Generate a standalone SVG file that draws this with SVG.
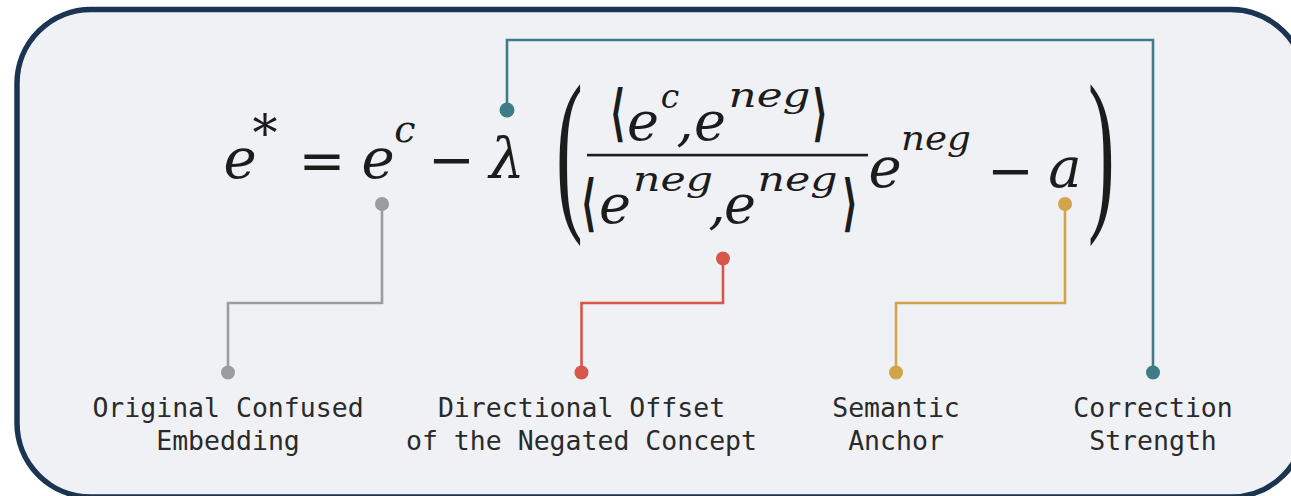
<svg xmlns="http://www.w3.org/2000/svg" width="1291" height="496" viewBox="0 0 1291 496">
<style>
.m{font-family:'DejaVu Serif',serif;font-style:italic;fill:#1c1c1c}
.u{font-family:'DejaVu Serif',serif;font-style:normal;fill:#1c1c1c}
.p{font-family:'Liberation Serif',serif;font-style:normal;fill:#1c1c1c;font-size:80px}
.b{font-family:'DejaVu Sans','DejaVu Serif',sans-serif;font-style:normal;font-weight:bold;fill:#1c1c1c}
.lbl{font-family:'DejaVu Sans Mono','Liberation Mono',monospace;font-size:26.5px;fill:#2a2a2a;text-anchor:middle}
.c{fill:none;stroke-width:2.6}
</style>
<rect width="1291" height="496" fill="#ffffff"/>
<rect id="frame" x="17" y="9.5" width="1288" height="487.5" rx="74" ry="74" fill="#eff1f5" stroke="#1b3452" stroke-width="5.5"/>

<g id="connectors">
  <path class="c" stroke="#9b9c9e" d="M382 204 V303 H228 V372"/>
  <circle cx="382" cy="204" r="7" fill="#9b9c9e"/>
  <circle cx="228" cy="372.5" r="7" fill="#9b9c9e"/>
  <path class="c" stroke="#d6574a" d="M723 258.5 V303 H581.5 V372"/>
  <circle cx="723" cy="258.5" r="7" fill="#d6574a"/>
  <circle cx="581.5" cy="372.5" r="7" fill="#d6574a"/>
  <path class="c" stroke="#d3a34e" d="M1065 204 V303 H896 V372"/>
  <circle cx="1065" cy="204" r="7" fill="#d3a34e"/>
  <circle cx="896" cy="372.5" r="7" fill="#d3a34e"/>
  <path class="c" stroke="#3e7c87" d="M507 110 V40 H1153 V372"/>
  <circle cx="507" cy="110" r="7.5" fill="#3e7c87"/>
  <circle cx="1153" cy="372.5" r="7" fill="#3e7c87"/>
</g>

<g id="formula">
  <text class="m" x="240" y="178" font-size="56" text-anchor="middle">e</text>
  <text class="u" x="265" y="151" font-size="50" text-anchor="middle">*</text>
  <text class="u" x="322" y="180" font-size="56" text-anchor="middle">=</text>
  <text class="m" x="378" y="178" font-size="56" text-anchor="middle">e</text>
  <text class="m" x="405" y="142" font-size="38" text-anchor="middle">c</text>
  <text class="u" x="451.5" y="179" font-size="56" text-anchor="middle">−</text>
  <text class="m" x="507" y="178" font-size="56" text-anchor="middle">λ</text>
  <text class="p" transform="translate(556 208) scale(1 2.22)">(</text>

  <text class="b" x="617.5" y="134" font-size="62" text-anchor="middle" textLength="16" lengthAdjust="spacingAndGlyphs">⟨</text>
  <text class="m" x="643" y="140" font-size="54" text-anchor="middle">e</text>
  <text class="m" x="670" y="108" font-size="33" text-anchor="middle">c</text>
  <text class="m" x="685" y="140" font-size="54" text-anchor="middle">,</text>
  <text class="m" x="710" y="140" font-size="54" text-anchor="middle">e</text>
  <text class="m" x="769.5" y="107" font-size="33" text-anchor="middle" textLength="82" lengthAdjust="spacingAndGlyphs">neg</text>
  <text class="b" x="820" y="134" font-size="62" text-anchor="middle" textLength="16" lengthAdjust="spacingAndGlyphs">⟩</text>
  <rect x="587" y="153.8" width="281" height="2.6" fill="#1c1c1c"/>
  <text class="b" x="588.5" y="224" font-size="62" text-anchor="middle" textLength="16" lengthAdjust="spacingAndGlyphs">⟨</text>
  <text class="m" x="615" y="223" font-size="54" text-anchor="middle">e</text>
  <text class="m" x="673" y="191" font-size="33" text-anchor="middle" textLength="80" lengthAdjust="spacingAndGlyphs">neg</text>
  <text class="m" x="717" y="223" font-size="54" text-anchor="middle">,</text>
  <text class="m" x="740" y="223" font-size="54" text-anchor="middle">e</text>
  <text class="m" x="797.5" y="191" font-size="33" text-anchor="middle" textLength="80" lengthAdjust="spacingAndGlyphs">neg</text>
  <text class="b" x="850" y="224" font-size="62" text-anchor="middle" textLength="16" lengthAdjust="spacingAndGlyphs">⟩</text>

  <text class="m" x="885" y="187" font-size="56" text-anchor="middle">e</text>
  <text class="m" x="936" y="150" font-size="33" text-anchor="middle" textLength="70" lengthAdjust="spacingAndGlyphs">neg</text>
  <text class="u" x="1010.5" y="190" font-size="56" text-anchor="middle">−</text>
  <text class="m" x="1065" y="187" font-size="56" text-anchor="middle">a</text>
  <text class="p" transform="translate(1088 208) scale(1 2.22)">)</text>
</g>

<g id="label-original">
  <text class="lbl" x="228" y="417">Original Confused</text>
  <text class="lbl" x="228" y="450">Embedding</text>
</g>
<g id="label-directional">
  <text class="lbl" x="581.5" y="417">Directional Offset</text>
  <text class="lbl" x="581.5" y="450">of the Negated Concept</text>
</g>
<g id="label-anchor">
  <text class="lbl" x="896" y="417">Semantic</text>
  <text class="lbl" x="896" y="450">Anchor</text>
</g>
<g id="label-strength">
  <text class="lbl" x="1153" y="417">Correction</text>
  <text class="lbl" x="1153" y="450">Strength</text>
</g>
</svg>
